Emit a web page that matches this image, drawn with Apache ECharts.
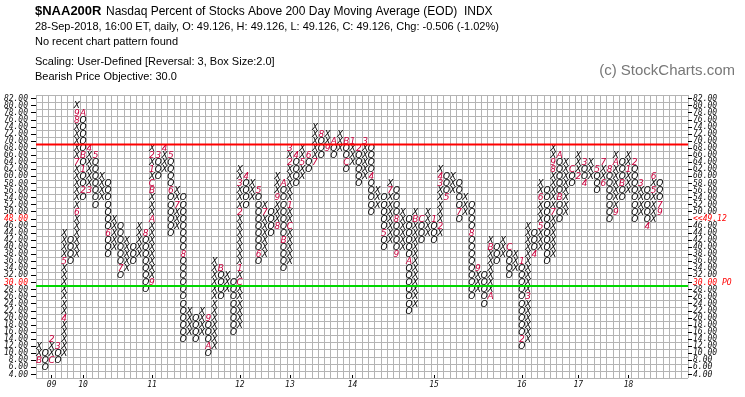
<!DOCTYPE html>
<html>
<head>
<meta charset="utf-8">
<script src="https://cdn.jsdelivr.net/npm/echarts@6/dist/echarts.min.js"></script>
</head>
<body style="margin:0;background:#fff">
<div id="main" style="width:745px;height:397px"></div>
<script>
// point & figure columns, left to right; odd columns are X, even are O
var colLow  = [8, 6, 8, 8, 10, 36, 38, 54, 56, 52, 54, 38, 40, 32, 34, 36, 38, 28, 30, 60,
               62, 44, 46, 14, 16, 14, 16, 10, 12, 26, 28, 16, 18, 52, 54, 36, 38, 44, 46, 34,
               36, 58, 60, 62, 64, 66, 68, 66, 68, 62, 64, 58, 60, 50, 52, 40, 42, 38, 40, 22,
               24, 42, 44, 42, 44, 54, 56, 48, 50, 26, 28, 24, 26, 36, 38, 32, 34, 12, 14, 38,
               40, 36, 38, 48, 50, 58, 60, 58, 60, 56, 58, 48, 50, 54, 56, 48, 50, 46, 48, 50];
var colHigh = [12, 10, 14, 12, 44, 42, 80, 78, 68, 66, 60, 58, 48, 46, 42, 40, 46, 44, 68, 66,
               68, 66, 56, 54, 22, 20, 22, 20, 36, 34, 32, 30, 62, 60, 58, 56, 52, 50, 60, 58,
               68, 66, 68, 66, 74, 72, 72, 70, 72, 70, 70, 68, 70, 68, 56, 54, 58, 56, 50, 48,
               50, 48, 50, 48, 62, 60, 60, 58, 54, 52, 34, 32, 42, 40, 42, 40, 38, 36, 46, 44,
               58, 56, 68, 66, 64, 62, 66, 64, 64, 62, 64, 62, 66, 64, 66, 64, 58, 56, 60, 58];
// month markers: [column, box, character]
var monthMarks = [
  [1, 8, 'B'], [3, 8, 'C'], [3, 14, '2'], [4, 12, '3'], [5, 20, '4'], [5, 36, '5'],
  [7, 50, '6'], [7, 64, '7'], [7, 76, '8'], [7, 78, '9'], [8, 78, 'A'], [8, 66, 'B'],
  [8, 62, '1'], [8, 56, '2'], [9, 56, '3'], [9, 68, '4'], [10, 66, '5'], [12, 44, '6'],
  [14, 34, '7'], [18, 44, '8'], [19, 30, '9'], [19, 48, 'A'], [19, 56, 'B'], [19, 58, 'C'],
  [19, 62, '1'], [19, 66, '2'], [20, 66, '3'], [21, 68, '4'], [22, 66, '5'], [22, 56, '6'],
  [23, 52, '7'], [24, 38, '8'], [28, 20, '9'], [28, 12, 'A'], [30, 34, 'B'], [33, 30, 'C'],
  [33, 34, '1'], [33, 50, '2'], [33, 58, '3'], [34, 60, '4'], [36, 56, '5'], [36, 38, '6'],
  [37, 50, '7'], [39, 46, '8'], [39, 54, '9'], [40, 58, 'A'], [40, 42, 'B'], [41, 46, 'C'],
  [41, 52, '1'], [41, 64, '2'], [41, 68, '3'], [42, 66, '4'], [43, 64, '5'], [44, 66, '6'],
  [45, 64, '7'], [46, 72, '8'], [47, 68, '9'], [48, 70, 'A'], [50, 70, 'B'], [50, 64, 'C'],
  [51, 70, '1'], [52, 68, '2'], [53, 70, '3'], [54, 60, '4'], [56, 44, '5'], [57, 56, '7'],
  [58, 48, '8'], [58, 38, '9'], [60, 36, 'A'], [61, 48, 'B'], [62, 48, 'C'], [64, 48, '1'],
  [65, 46, '2'], [65, 58, '3'], [65, 60, '4'], [66, 54, '5'], [68, 50, '7'], [70, 44, '8'],
  [71, 34, '9'], [73, 26, 'A'], [73, 40, 'B'], [76, 40, 'C'], [78, 36, '1'], [78, 14, '2'],
  [79, 26, '3'], [80, 38, '4'], [81, 46, '5'], [81, 54, '6'], [83, 50, '7'], [83, 62, '8'],
  [83, 64, '9'], [84, 66, 'A'], [84, 54, 'B'], [86, 62, 'C'], [87, 60, '2'], [88, 64, '3'],
  [88, 58, '4'], [90, 62, '5'], [91, 58, '6'], [91, 64, '7'], [92, 62, '8'], [93, 50, '9'],
  [93, 64, 'A'], [94, 58, 'B'], [95, 62, '1'], [96, 64, '2'], [97, 58, '3'], [98, 46, '4'],
  [99, 56, '5'], [99, 60, '6'], [100, 52, '7'], [100, 50, '9']
];
var priceRows = ['4.00', '6.00', '8.00', '10.00', '12.00', '14.00', '16.00', '18.00', '20.00', '22.00',
                 '24.00', '26.00', '28.00', '30.00', '32.00', '34.00', '36.00', '38.00', '40.00', '42.00',
                 '44.00', '46.00', '48.00', '50.00', '52.00', '54.00', '56.00', '58.00', '60.00', '62.00',
                 '64.00', '66.00', '68.00', '70.00', '72.00', '74.00', '76.00', '78.00', '80.00', '82.00'];
var yearCols = [3, 8, 19, 33, 41, 51, 64, 78, 87, 95];
var yearText = ['09', '10', '11', '12', '13', '14', '15', '16', '17', '18'];
var overbought = 70;
var oversold = 30;
var lastPrice = '49.12';
var lastPriceRow = '48.00';
var objectiveRow = '30.00';
var gridCols = 104;
var boxSize = 2;

var markAt = {};
monthMarks.forEach(function (m) { markAt[m[0] + '_' + m[1]] = m[2]; });
var cells = [];
colLow.forEach(function (lo, i) {
  var kind = i % 2 === 0 ? 'X' : 'O';
  for (var v = lo; v <= colHigh[i]; v += boxSize) {
    var m = markAt[(i + 1) + '_' + v];
    cells.push({ x: i + 0.5, y: v + boxSize / 2, text: m || kind, red: !!m });
  }
});

var colNames = [];
for (var c = 1; c <= gridCols; c++) {
  var k = yearCols.indexOf(c);
  colNames.push(k >= 0 ? yearText[k] : '');
}

var tickFont = { fontFamily: 'DejaVu Sans Mono', fontStyle: 'italic', fontSize: 8 };
var rowColor = function (val) {
  return (val === lastPriceRow || val === objectiveRow) ? '#ff0000' : '#111';
};

var chart = echarts.init(document.getElementById('main'));
chart.setOption({
  animation: false,
  backgroundColor: '#fff',
  grid: { left: 36, top: 95, width: 652, height: 283, containLabel: false },
  graphic: [
    { type: 'text', left: 35, top: 5, style: { text: '$NAA200R', font: 'bold 13px "Liberation Sans"', fill: '#000' } },
    { type: 'text', left: 106, top: 6, style: { text: 'Nasdaq Percent of Stocks Above 200 Day Moving Average (EOD)  INDX', font: '12px "Liberation Sans"', fill: '#000' } },
    { type: 'text', left: 35, top: 21, style: { text: '28-Sep-2018, 16:00 ET, daily, O: 49.126, H: 49.126, L: 49.126, C: 49.126, Chg: -0.506 (-1.02%)', font: '11px "Liberation Sans"', fill: '#000' } },
    { type: 'text', left: 35, top: 36, style: { text: 'No recent chart pattern found', font: '11px "Liberation Sans"', fill: '#000' } },
    { type: 'text', left: 35, top: 56, style: { text: 'Scaling: User-Defined [Reversal: 3, Box Size:2.0]', font: '11px "Liberation Sans"', fill: '#000' } },
    { type: 'text', left: 35, top: 71, style: { text: 'Bearish Price Objective: 30.0', font: '11px "Liberation Sans"', fill: '#000' } },
    { type: 'text', right: 10, top: 63, style: { text: '(c) StockCharts.com', font: '15px "Liberation Sans"', fill: '#777' } }
  ],
  xAxis: [
    {
      type: 'value', min: 0, max: gridCols, interval: 1,
      axisLine: { show: false }, axisTick: { show: false }, axisLabel: { show: false },
      splitLine: { show: true, lineStyle: { color: '#b4b4b4', width: 1 } }
    },
    {
      type: 'category', data: colNames, position: 'bottom', boundaryGap: true,
      axisLine: { show: false },
      axisTick: { show: true, inside: true, length: 3, alignWithLabel: true,
        interval: function (i) { return colNames[i] !== ''; }, lineStyle: { color: '#000' } },
      axisLabel: Object.assign({ interval: 0, margin: 3, color: '#111' }, tickFont),
      splitLine: { show: false }
    }
  ],
  yAxis: [
    {
      type: 'value', min: 4, max: 84, interval: boxSize,
      axisLine: { show: false }, axisTick: { show: false }, axisLabel: { show: false },
      splitLine: { show: true, lineStyle: { color: '#b4b4b4', width: 1 } }
    },
    {
      type: 'category', data: priceRows, position: 'left', boundaryGap: true,
      axisLine: { show: false },
      axisTick: { show: true, alignWithLabel: true, length: 5, lineStyle: { color: '#000' } },
      axisLabel: Object.assign({ interval: 0, margin: 8, color: rowColor }, tickFont),
      splitLine: { show: false }
    },
    {
      type: 'category', data: priceRows, position: 'right', boundaryGap: true,
      axisLine: { show: false },
      axisTick: { show: true, alignWithLabel: true, length: 4, lineStyle: { color: '#000' } },
      axisLabel: Object.assign({
        interval: 0, margin: 5, color: rowColor,
        formatter: function (val) {
          if (val === lastPriceRow) return '<<' + lastPrice;
          if (val === objectiveRow) return val + ' PO';
          return val;
        }
      }, tickFont),
      splitLine: { show: false }
    }
  ],
  series: [
    {
      type: 'line', xAxisIndex: 0, yAxisIndex: 0, symbol: 'none', silent: true,
      data: [[0, overbought], [gridCols, overbought]],
      lineStyle: { color: '#ff0000', width: 2 }
    },
    {
      type: 'line', xAxisIndex: 0, yAxisIndex: 0, symbol: 'none', silent: true,
      data: [[0, oversold], [gridCols, oversold]],
      lineStyle: { color: '#00d800', width: 2 }
    },
    {
      type: 'custom', xAxisIndex: 0, yAxisIndex: 0, silent: true,
      data: cells.map(function (c) { return [c.x, c.y]; }),
      renderItem: function (params, api) {
        var c = cells[params.dataIndex];
        var p = api.coord([api.value(0), api.value(1)]);
        return {
          type: 'text', x: p[0], y: p[1] + 0.5,
          style: {
            text: c.text, fill: c.red ? '#c8003c' : '#000',
            font: 'italic 9px "DejaVu Sans"', align: 'center', verticalAlign: 'middle'
          }
        };
      }
    }
  ]
});
</script>
</body>
</html>
